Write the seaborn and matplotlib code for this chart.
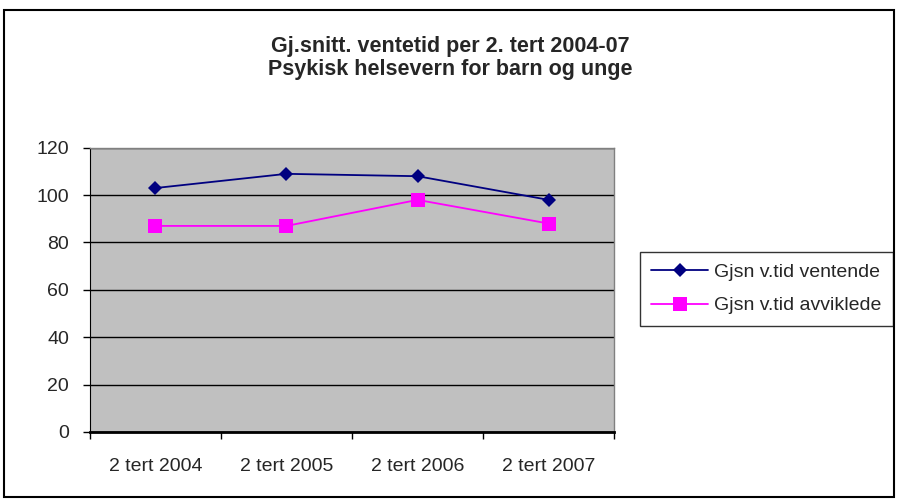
import pandas as pd
import numpy as np
import matplotlib
matplotlib.use("Agg")
import matplotlib.pyplot as plt
import seaborn as sns

# Data
periods = ["2 tert 2004", "2 tert 2005", "2 tert 2006", "2 tert 2007"]
ventende = [103, 109, 108, 98]
avviklede = [87, 87, 98, 88]
series_names = ["Gjsn v.tid ventende", "Gjsn v.tid avviklede"]

df = pd.DataFrame({
    "periode": periods * 2,
    "pos": list(range(len(periods))) * 2,
    "verdi": ventende + avviklede,
    "serie": [series_names[0]] * 4 + [series_names[1]] * 4,
})

sns.set_style("white")
plt.rcParams['font.family'] = ['Liberation Sans', 'DejaVu Sans']

fig = plt.figure(figsize=(8.98, 5.01), dpi=100)
ax = fig.add_axes([0.100, 0.138, 0.584, 0.567])
ax.set_facecolor("#C0C0C0")

sns.lineplot(data=df, x="pos", y="verdi", hue="serie", style="serie",
             palette={series_names[0]: "#000080", series_names[1]: "#FF00FF"},
             markers={series_names[0]: "D", series_names[1]: "s"},
             dashes=False, linewidth=1.3, markeredgewidth=0, ax=ax)
# marker sizes per series
for line in ax.lines:
    if line.get_marker() == "D":
        line.set_markersize(7.5)
    elif line.get_marker() == "s":
        line.set_markersize(10)

ax.set_xlim(-0.5, 3.5)
ax.set_ylim(0, 120)
ax.set_yticks(range(0, 121, 20))
ax.yaxis.grid(True, color="black", linewidth=1)
ax.set_axisbelow(True)
ax.set_xticks(np.arange(-0.5, 3.6, 1))
ax.set_xticklabels([])
ax.set_xticks(range(len(periods)), minor=True)
ax.set_xticklabels(periods, minor=True)
ax.tick_params(axis="x", which="major", direction="out", length=5, width=1, color="black", bottom=True)
ax.tick_params(axis="x", which="minor", length=0, pad=19, labelsize=14)
ax.tick_params(axis="y", direction="out", length=5, width=1, color="black", left=True, labelsize=14, pad=10)
ax.set_xlabel("")
ax.set_ylabel("")

for side in ["top", "right"]:
    ax.spines[side].set_color("#808080")
    ax.spines[side].set_linewidth(1)
ax.spines["left"].set_color("black")
ax.spines["bottom"].set_color("black")
ax.spines["bottom"].set_linewidth(2)

leg = ax.legend(loc="center left", bbox_to_anchor=(1.03, 0.503), frameon=True,
                fancybox=False, edgecolor="black", fontsize=14,
                handlelength=2.9, handletextpad=0.3, labelspacing=0.8, borderpad=0.6)
leg.get_frame().set_linewidth(1)
for h in leg.legend_handles:
    if h.get_marker() == "D":
        h.set_markersize(7.5)
    elif h.get_marker() == "s":
        h.set_markersize(10)

fig.text(0.501, 0.884, "Gj.snitt. ventetid per 2. tert 2004-07\nPsykisk helsevern for barn og unge",
         ha="center", va="center", fontsize=15.5, fontweight="bold", linespacing=1.12)

border = plt.Rectangle((0.005, 0.008), 0.99, 0.972, transform=fig.transFigure,
                       fill=False, edgecolor="black", linewidth=1.5)
fig.patches.append(border)

fig.savefig("out.png", dpi=100)
